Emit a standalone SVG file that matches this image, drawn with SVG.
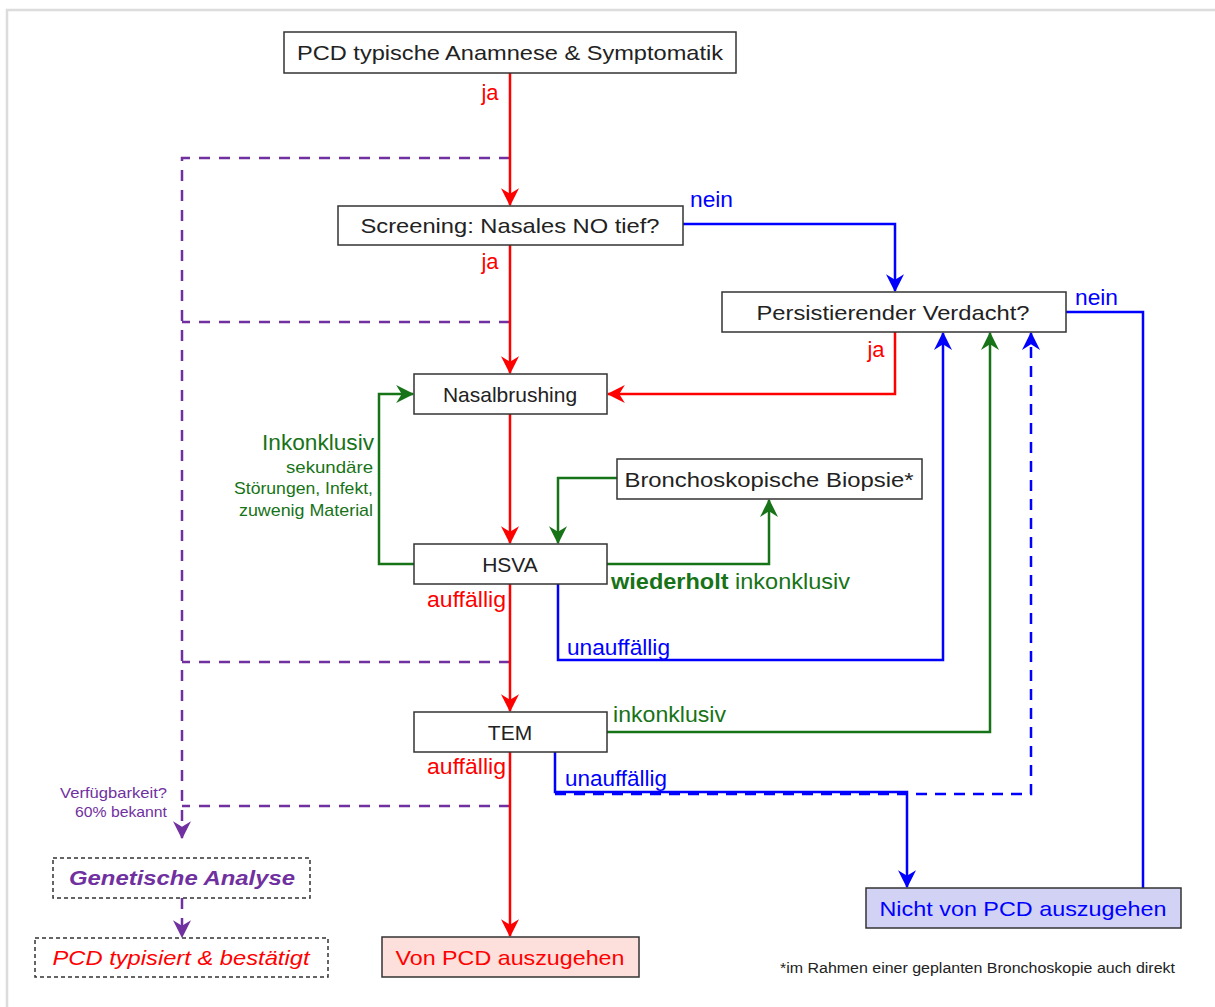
<svg xmlns="http://www.w3.org/2000/svg" width="1215" height="1007" viewBox="0 0 1215 1007">
<style>
text{font-family:"Liberation Sans",Arial,sans-serif;}
.box{fill:#fff;stroke:#333;stroke-width:1.5;}
.bt{font-size:21px;fill:#222;text-anchor:middle;}
.lbl{font-size:22px;}
.r{stroke:#ff0000;}
.b{stroke:#0000ff;}
.g{stroke:#177317;}
.p{stroke:#7030a0;stroke-dasharray:11 9;}
.c{fill:none;stroke-width:2.5;}
.tr{fill:#ff0000;}
.tb{fill:#0000ff;}
.tg{fill:#177317;}
.tp{fill:#7030a0;}
</style>
<defs>
<marker id="ar" markerUnits="userSpaceOnUse" markerWidth="18" markerHeight="18" refX="15" refY="8" orient="auto" viewBox="0 0 16 16"><path d="M0,0 L16,8 L0,16 L5,8 Z" fill="#ff0000"/></marker>
<marker id="ab" markerUnits="userSpaceOnUse" markerWidth="18" markerHeight="18" refX="15" refY="8" orient="auto" viewBox="0 0 16 16"><path d="M0,0 L16,8 L0,16 L5,8 Z" fill="#0000ff"/></marker>
<marker id="ag" markerUnits="userSpaceOnUse" markerWidth="18" markerHeight="18" refX="15" refY="8" orient="auto" viewBox="0 0 16 16"><path d="M0,0 L16,8 L0,16 L5,8 Z" fill="#177317"/></marker>
<marker id="ap" markerUnits="userSpaceOnUse" markerWidth="18" markerHeight="18" refX="15" refY="8" orient="auto" viewBox="0 0 16 16"><path d="M0,0 L16,8 L0,16 L5,8 Z" fill="#7030a0"/></marker>
</defs>
<rect x="0" y="0" width="1215" height="1007" fill="#fff"/>
<rect x="7" y="10" width="1230" height="1020" fill="none" stroke="#dcdcdc" stroke-width="2.5"/>

<g id="connectors">
  <!-- purple dashed -->
  <path class="c p" d="M510,158 H182 V838" marker-end="url(#ap)"/>
  <path class="c p" d="M510,322 H182"/>
  <path class="c p" d="M510,662 H182"/>
  <path class="c p" d="M510,806 H182"/>
  <path class="c p" d="M182,898 V937" marker-end="url(#ap)"/>
  <!-- red main line -->
  <path class="c r" d="M510,73 V205" marker-end="url(#ar)"/>
  <path class="c r" d="M510,245 V373" marker-end="url(#ar)"/>
  <path class="c r" d="M510,414 V543" marker-end="url(#ar)"/>
  <path class="c r" d="M510,584 V711" marker-end="url(#ar)"/>
  <path class="c r" d="M510,752 V936" marker-end="url(#ar)"/>
  <path class="c r" d="M895,332 V394 H608" marker-end="url(#ar)"/>
  <!-- blue -->
  <path class="c b" d="M683,224 H895 V291" marker-end="url(#ab)"/>
  <path class="c b" d="M1066,312 H1143 V888"/>
  <path class="c b" d="M558,584 V660 H943 V333" marker-end="url(#ab)"/>
  <path class="c b" d="M555,752 V792 H907 V887" marker-end="url(#ab)"/>
  <path class="c b" d="M555,794 H1031 V333" stroke-dasharray="11 8" marker-end="url(#ab)"/>
  <!-- green -->
  <path class="c g" d="M414,564 H379 V394 H413" marker-end="url(#ag)"/>
  <path class="c g" d="M607,564 H769 V500" marker-end="url(#ag)"/>
  <path class="c g" d="M617,478 H558 V543" marker-end="url(#ag)"/>
  <path class="c g" d="M607,732 H990 V333" marker-end="url(#ag)"/>
  <!-- labels -->
  <text class="lbl tr" x="490" y="100" text-anchor="middle">ja</text>
  <text class="lbl tr" x="490" y="269" text-anchor="middle">ja</text>
  <text class="lbl tb" x="690" y="207" textLength="43" lengthAdjust="spacingAndGlyphs">nein</text>
  <text class="lbl tb" x="1075" y="305" textLength="43" lengthAdjust="spacingAndGlyphs">nein</text>
  <text class="lbl tr" x="876" y="357" text-anchor="middle">ja</text>
  <text class="lbl tg" x="262" y="450" textLength="112" lengthAdjust="spacingAndGlyphs">Inkonklusiv</text>
  <text class="tg" x="286" y="473" font-size="17" textLength="87" lengthAdjust="spacingAndGlyphs">sekundäre</text>
  <text class="tg" x="234" y="494" font-size="17" textLength="139" lengthAdjust="spacingAndGlyphs">Störungen, Infekt,</text>
  <text class="tg" x="239" y="516" font-size="17" textLength="134" lengthAdjust="spacingAndGlyphs">zuwenig Material</text>
  <text class="lbl tg" x="611" y="589" textLength="239" lengthAdjust="spacingAndGlyphs"><tspan font-weight="bold">wiederholt</tspan> inkonklusiv</text>
  <text class="lbl tr" x="427" y="607" textLength="79" lengthAdjust="spacingAndGlyphs">auffällig</text>
  <text class="lbl tb" x="567" y="655" textLength="103" lengthAdjust="spacingAndGlyphs">unauffällig</text>
  <text class="lbl tg" x="613" y="722" textLength="113" lengthAdjust="spacingAndGlyphs">inkonklusiv</text>
  <text class="lbl tr" x="427" y="774" textLength="79" lengthAdjust="spacingAndGlyphs">auffällig</text>
  <text class="lbl tb" x="565" y="786" textLength="102" lengthAdjust="spacingAndGlyphs">unauffällig</text>
  <text class="tp" x="60" y="798" font-size="15" textLength="107" lengthAdjust="spacingAndGlyphs">Verfügbarkeit?</text>
  <text class="tp" x="75" y="817" font-size="15" textLength="92" lengthAdjust="spacingAndGlyphs">60% bekannt</text>
</g>

<g id="n1"><rect class="box" x="284" y="32" width="452" height="41"/><text class="bt" x="510" y="60" textLength="426" lengthAdjust="spacingAndGlyphs">PCD typische Anamnese &amp; Symptomatik</text></g>
<g id="n2"><rect class="box" x="338" y="206" width="345" height="39"/><text class="bt" x="510" y="233" textLength="299" lengthAdjust="spacingAndGlyphs">Screening: Nasales NO tief?</text></g>
<g id="n3"><rect class="box" x="722" y="292" width="344" height="40"/><text class="bt" x="893" y="320" textLength="273" lengthAdjust="spacingAndGlyphs">Persistierender Verdacht?</text></g>
<g id="n4"><rect class="box" x="414" y="374" width="193" height="40"/><text class="bt" x="510" y="402">Nasalbrushing</text></g>
<g id="n5"><rect class="box" x="617" y="459" width="305" height="40"/><text class="bt" x="769" y="487" textLength="289" lengthAdjust="spacingAndGlyphs">Bronchoskopische Biopsie*</text></g>
<g id="n6"><rect class="box" x="414" y="544" width="193" height="40"/><text class="bt" x="510" y="572">HSVA</text></g>
<g id="n7"><rect class="box" x="414" y="712" width="193" height="40"/><text class="bt" x="510" y="740">TEM</text></g>
<g id="n8"><rect class="box" x="53" y="858" width="257" height="40" stroke-dasharray="4 3"/><text class="bt" x="182" y="885" style="fill:#7030a0" font-weight="bold" font-style="italic" textLength="226" lengthAdjust="spacingAndGlyphs">Genetische Analyse</text></g>
<g id="n9"><rect class="box" x="35" y="938" width="293" height="39" stroke-dasharray="4 3"/><text class="bt" x="181" y="965" style="fill:#ff0000" font-style="italic" textLength="257" lengthAdjust="spacingAndGlyphs">PCD typisiert &amp; bestätigt</text></g>
<g id="n10"><rect class="box" x="382" y="937" width="257" height="40" style="fill:#fde0dc"/><text class="bt" x="510" y="965" style="fill:#ff0000" textLength="229" lengthAdjust="spacingAndGlyphs">Von PCD auszugehen</text></g>
<g id="n11"><rect class="box" x="866" y="888" width="315" height="40" style="fill:#d2d2f5"/><text class="bt" x="1023" y="916" style="fill:#0000ff" textLength="287" lengthAdjust="spacingAndGlyphs">Nicht von PCD auszugehen</text></g>
<g id="note"><text x="780" y="973" font-size="14" fill="#222" textLength="395" lengthAdjust="spacingAndGlyphs">*im Rahmen  einer geplanten Bronchoskopie auch direkt</text></g>
</svg>
